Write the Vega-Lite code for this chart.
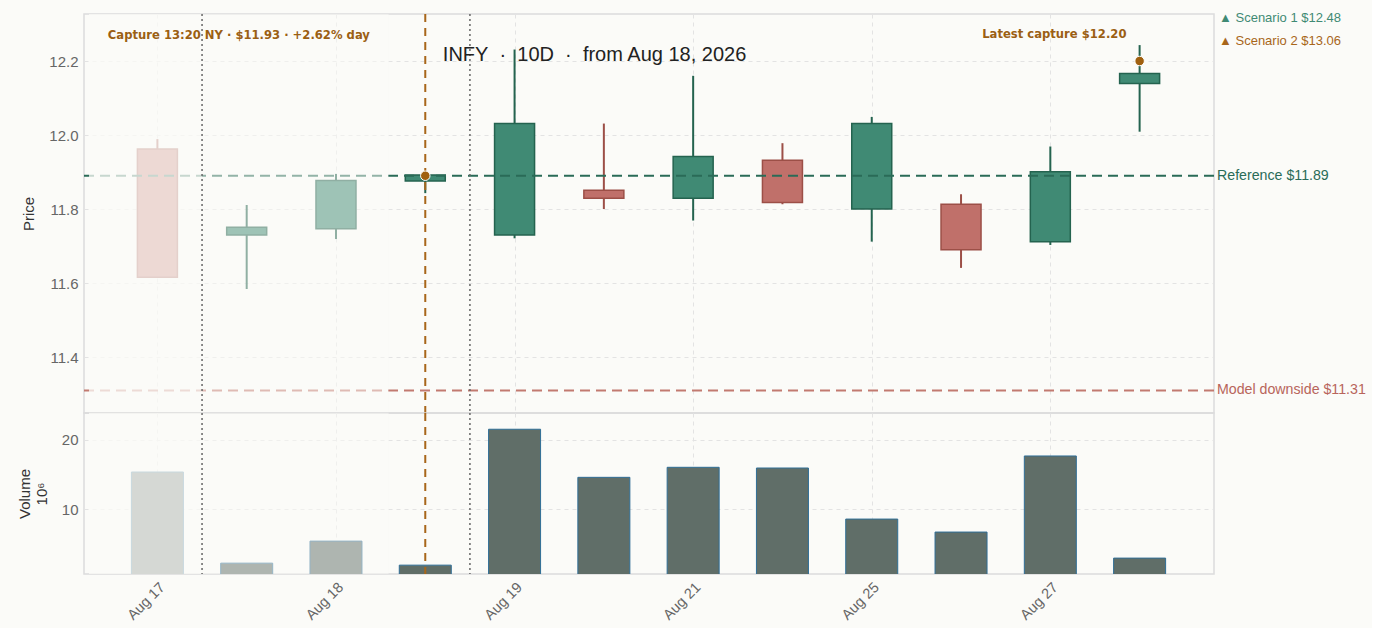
{
  "$schema": "https://vega.github.io/schema/vega-lite/v6.json",
  "background": "#fbfbf8",
  "padding": {"left": 16, "top": 11, "right": 5, "bottom": 5},
  "spacing": 0,
  "bounds": "flush",
  "datasets": {
    "candles": [
      {"i": 0, "open": 11.962, "high": 11.989, "low": 11.616, "close": 11.616, "volume": 15.36},
      {"i": 1, "open": 11.730, "high": 11.811, "low": 11.584, "close": 11.751, "volume": 2.17},
      {"i": 2, "open": 11.747, "high": 11.895, "low": 11.719, "close": 11.877, "volume": 5.36},
      {"i": 3, "open": 11.876, "high": 11.893, "low": 11.843, "close": 11.892, "volume": 1.88},
      {"i": 4, "open": 11.730, "high": 12.231, "low": 11.721, "close": 12.031, "volume": 21.55},
      {"i": 5, "open": 11.851, "high": 12.031, "low": 11.800, "close": 11.829, "volume": 14.59},
      {"i": 6, "open": 11.829, "high": 12.160, "low": 11.769, "close": 11.942, "volume": 16.04},
      {"i": 7, "open": 11.932, "high": 11.978, "low": 11.813, "close": 11.818, "volume": 15.94},
      {"i": 8, "open": 11.800, "high": 12.049, "low": 11.712, "close": 12.031, "volume": 8.55},
      {"i": 9, "open": 11.813, "high": 11.840, "low": 11.641, "close": 11.690, "volume": 6.67},
      {"i": 10, "open": 11.712, "high": 11.969, "low": 11.703, "close": 11.901, "volume": 17.68},
      {"i": 11, "open": 12.139, "high": 12.243, "low": 12.009, "close": 12.166, "volume": 2.90}
    ],
    "captures": [
      {"i": 3, "price": 11.89},
      {"i": 11, "price": 12.20}
    ],
    "one": [{}]
  },
  "config": {
    "font": "Liberation Sans",
    "view": {"stroke": "#dcdcdc", "strokeWidth": 1.5},
    "axis": {
      "domain": false,
      "ticks": false,
      "gridColor": "#e3e3e3",
      "gridDash": [4, 4],
      "labelColor": "#666666",
      "labelFontSize": 15,
      "labelPadding": 6,
      "titleColor": "#333333",
      "titleFontSize": 15,
      "titleFontWeight": "normal"
    }
  },
  "vconcat": [
    {
      "width": 1130,
      "height": 399,
      "layer": [
        {
          "data": {"name": "candles"},
          "mark": {"type": "rule", "strokeWidth": 2},
          "encoding": {
            "x": {
              "field": "i",
              "type": "quantitative",
              "scale": {"domain": [-0.766, 11.777], "nice": false, "zero": false},
              "axis": {"values": [0, 2, 4, 6, 8, 10], "labels": false, "title": null, "labelPadding": 0}
            },
            "y": {
              "field": "low",
              "type": "quantitative",
              "scale": {"domain": [11.249, 12.327], "nice": false, "zero": false},
              "axis": {"values": [11.4, 11.6, 11.8, 12.0, 12.2], "format": ".1f", "title": "Price", "titlePadding": 12}
            },
            "y2": {"field": "high"},
            "color": {
              "condition": {"test": "datum.close >= datum.open", "value": "#24634f"},
              "value": "#9c4f47"
            }
          }
        },
        {
          "data": {"name": "candles"},
          "mark": {"type": "bar", "size": 40, "strokeWidth": 1.5},
          "encoding": {
            "x": {"field": "i", "type": "quantitative"},
            "y": {"field": "open", "type": "quantitative"},
            "y2": {"field": "close"},
            "fill": {
              "condition": {"test": "datum.close >= datum.open", "value": "#408a74"},
              "value": "#c0706a"
            },
            "stroke": {
              "condition": {"test": "datum.close >= datum.open", "value": "#24634f"},
              "value": "#9c4f47"
            }
          }
        },
        {
          "data": {"name": "one"},
          "mark": {"type": "rule", "strokeWidth": 2, "strokeDash": [10, 6], "color": "#2a6b57"},
          "encoding": {"y": {"datum": 11.89}}
        },
        {
          "data": {"name": "one"},
          "mark": {"type": "rule", "strokeWidth": 2, "strokeDash": [10, 6], "color": "#c27a70"},
          "encoding": {"y": {"datum": 11.31}}
        },
        {
          "data": {"name": "one"},
          "mark": {"type": "rect", "fill": "#fbfbf8", "opacity": 0.5},
          "encoding": {"x": {"datum": -0.766}, "x2": {"datum": 2.59}, "y": {"datum": 11.249}, "y2": {"datum": 12.327}}
        },
        {
          "data": {"name": "one"},
          "mark": {"type": "rect", "fill": "#fbfbf8", "opacity": 0.5},
          "encoding": {"x": {"datum": -0.766}, "x2": {"datum": 0.5}, "y": {"datum": 11.249}, "y2": {"datum": 12.327}}
        },
        {
          "data": {"name": "one"},
          "mark": {"type": "rule", "strokeWidth": 1.5, "strokeDash": [2, 3], "color": "#666666"},
          "encoding": {"x": {"datum": 0.5}}
        },
        {
          "data": {"name": "one"},
          "mark": {"type": "rule", "strokeWidth": 1.5, "strokeDash": [2, 3], "color": "#666666"},
          "encoding": {"x": {"datum": 3.5}}
        },
        {
          "data": {"name": "one"},
          "mark": {"type": "rule", "strokeWidth": 2, "strokeDash": [8, 6], "color": "#a8661a"},
          "encoding": {"x": {"datum": 3}}
        },
        {
          "data": {"name": "captures"},
          "mark": {"type": "point", "filled": true, "size": 90, "color": "#a0600f", "stroke": "#ffffff", "strokeWidth": 1, "opacity": 1},
          "encoding": {"x": {"field": "i", "type": "quantitative"}, "y": {"field": "price", "type": "quantitative"}}
        },
        {
          "data": {"name": "one"},
          "mark": {"type": "text", "text": "Capture 13:20 NY · $11.93 · +2.62% day", "font": "DejaVu Sans", "fontWeight": "bold", "fontSize": 11.6, "color": "#9b5f13", "align": "left", "baseline": "middle"},
          "encoding": {"x": {"datum": -0.555}, "y": {"datum": 12.268}}
        },
        {
          "data": {"name": "one"},
          "mark": {"type": "text", "text": "Latest capture $12.20", "font": "DejaVu Sans", "fontWeight": "bold", "fontSize": 11.6, "color": "#9b5f13", "align": "center", "baseline": "middle"},
          "encoding": {"x": {"datum": 10.045}, "y": {"datum": 12.27}}
        },
        {
          "data": {"name": "one"},
          "mark": {"type": "text", "text": "INFY\u00a0\u00a0·\u00a0\u00a010D\u00a0\u00a0·\u00a0\u00a0from Aug 18, 2026", "fontSize": 20, "color": "#222222", "align": "left", "baseline": "middle"},
          "encoding": {"x": {"datum": 3.197}, "y": {"datum": 12.216}}
        },
        {
          "data": {"name": "one"},
          "mark": {"type": "text", "text": "Reference $11.89", "fontSize": 14.2, "color": "#2a6b57", "align": "left", "baseline": "middle", "dx": 8},
          "encoding": {"x": {"datum": 11.777}, "y": {"datum": 11.89}}
        },
        {
          "data": {"name": "one"},
          "mark": {"type": "text", "text": "Model downside $11.31", "fontSize": 14.2, "color": "#b8655b", "align": "left", "baseline": "middle", "dx": 8},
          "encoding": {"x": {"datum": 11.777}, "y": {"datum": 11.31}}
        },
        {
          "data": {"name": "one"},
          "mark": {"type": "text", "text": "▲ Scenario 1 $12.48", "fontSize": 13, "color": "#3f8a74", "align": "left", "baseline": "middle", "dx": 10},
          "encoding": {"x": {"datum": 11.777}, "y": {"datum": 12.316}}
        },
        {
          "data": {"name": "one"},
          "mark": {"type": "text", "text": "▲ Scenario 2 $13.06", "fontSize": 13, "color": "#a8661a", "align": "left", "baseline": "middle", "dx": 10},
          "encoding": {"x": {"datum": 11.777}, "y": {"datum": 12.254}}
        }
      ]
    },
    {
      "width": 1130,
      "height": 161,
      "layer": [
        {
          "data": {"name": "candles"},
          "mark": {"type": "bar", "size": 52, "fill": "#606e68", "stroke": "#2f6e96", "strokeWidth": 1, "clip": true},
          "encoding": {
            "x": {
              "field": "i",
              "type": "quantitative",
              "scale": {"domain": [-0.766, 11.777], "nice": false, "zero": false},
              "axis": {
                "values": [0, 2, 4, 6, 8, 10],
                "title": null,
                "labelAngle": -45,
                "labelFontSize": 14.5,
                "labelExpr": "['Aug 17','','Aug 18','','Aug 19','','Aug 21','','Aug 25','','Aug 27',''][datum.value]"
              }
            },
            "y": {
              "field": "volume",
              "type": "quantitative",
              "scale": {"domain": [0.6, 23.9], "nice": false, "zero": false},
              "axis": {"values": [10, 20], "title": ["Volume", "10⁶"], "titlePadding": 12}
            }
          }
        },
        {
          "data": {"name": "one"},
          "mark": {"type": "rect", "fill": "#fbfbf8", "opacity": 0.5},
          "encoding": {"x": {"datum": -0.766}, "x2": {"datum": 2.59}, "y": {"datum": 0.6}, "y2": {"datum": 23.9}}
        },
        {
          "data": {"name": "one"},
          "mark": {"type": "rect", "fill": "#fbfbf8", "opacity": 0.5},
          "encoding": {"x": {"datum": -0.766}, "x2": {"datum": 0.5}, "y": {"datum": 0.6}, "y2": {"datum": 23.9}}
        },
        {
          "data": {"name": "one"},
          "mark": {"type": "rule", "strokeWidth": 1.5, "strokeDash": [2, 3], "color": "#666666"},
          "encoding": {"x": {"datum": 0.5}}
        },
        {
          "data": {"name": "one"},
          "mark": {"type": "rule", "strokeWidth": 1.5, "strokeDash": [2, 3], "color": "#666666"},
          "encoding": {"x": {"datum": 3.5}}
        },
        {
          "data": {"name": "one"},
          "mark": {"type": "rule", "strokeWidth": 2, "strokeDash": [8, 6], "color": "#a8661a"},
          "encoding": {"x": {"datum": 3}}
        }
      ]
    }
  ]
}
